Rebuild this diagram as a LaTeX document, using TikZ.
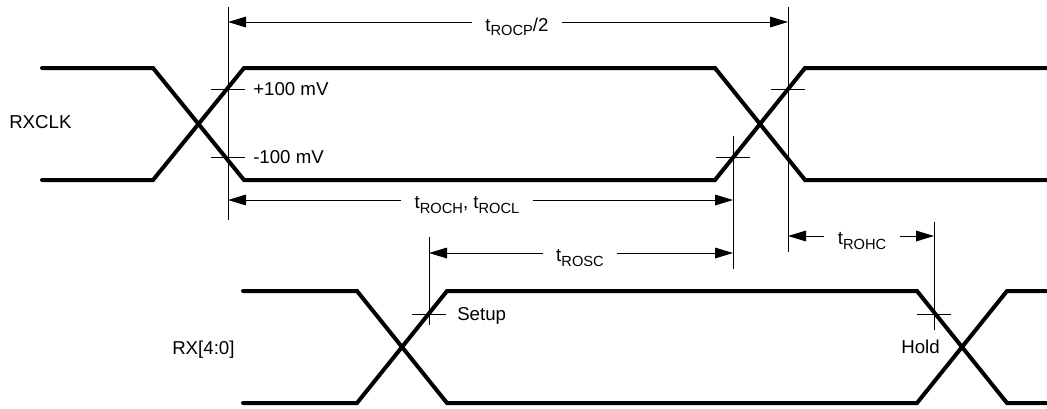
\documentclass[tikz,border=0pt]{standalone}
\usepackage{fontspec}
\setmainfont{Liberation Sans}
\usetikzlibrary{arrows.meta}
\newcommand{\tsub}[1]{\raisebox{-3.6pt}{\fontsize{11}{11}\selectfont #1}}
\tikzset{
	wave/.style={line width=3pt, line cap=round, line join=miter},
	guide/.style={line width=0.75pt},
	dim/.style={line width=0.75pt, -{Triangle[length=13.5pt,width=8pt]}},
	dimlabel/.style={anchor=base, inner xsep=10pt, inner ysep=0pt},
	sig/.style={inner sep=0pt}
}
\begin{document}
\begin{tikzpicture}[x=0.75pt,y=-0.75pt,font=\fontsize{14}{16}\selectfont]
	\useasboundingbox (0,0) rectangle (1047,408);
	%
	\def\rxhi{68}
	\def\rxlo{180}
	\def\dhi{291}
	\def\dlo{403}
	%
	% RXCLK
	\draw [wave] (42,\rxhi) -- (153,\rxhi) -- (244,\rxlo) -- (715,\rxlo) -- (805,\rxhi) -- (1047,\rxhi);
	\draw [wave] (42,\rxlo) -- (153,\rxlo) -- (244,\rxhi) -- (715,\rxhi) -- (805,\rxlo) -- (1047,\rxlo);
	% RX[4:0]
	\draw [wave] (243,\dhi) -- (357,\dhi) -- (447,\dlo) -- (917,\dlo) -- (1007,\dhi) -- (1047,\dhi);
	\draw [wave] (243,\dlo) -- (357,\dlo) -- (447,\dhi) -- (917,\dhi) -- (1007,\dlo) -- (1047,\dlo);
	%
	\node [sig, anchor=base west] (rxclk) at (9,128.5) {RXCLK};
	\node [sig, anchor=base west] (rxd) at (172,354.5) {RX[4:0]};
	%
	\foreach \x/\a/\b in {228/7/220,788/7/252,733/136/269,429/237/325,934/222/330}
		\draw [guide] (\x,\a) -- (\x,\b);
	\foreach \x/\y in {228/89,228/157,788/89,733/157,429/314,934/314}
		\draw [guide] (\x-17,\y) -- (\x+17,\y);
	%
	\node [sig, anchor=base west] (hi) at (253,95.5) {+100 mV};
	\node [sig, anchor=base west] (lo) at (253,163.5) {-100 mV};
	\node [sig, anchor=base west] (setup) at (457,320.5) {Setup};
	\node [sig, anchor=base east] (hold) at (940,353.5) {Hold};
	%
	% dimensions
	\coordinate (cpL) at (228,22);  \coordinate (cpR) at (788,22);
	\coordinate (chL) at (228,200); \coordinate (chR) at (733,200);
	\coordinate (scL) at (429,253); \coordinate (scR) at (733,253);
	\coordinate (hcL) at (788,236); \coordinate (hcR) at (934,236);
	\node [dimlabel] (ocp) at (517,31) {t\tsub{ROCP}/2};
	\node [dimlabel] (och) at (467,208.5) {t\tsub{ROCH}, t\tsub{ROCL}};
	\node [dimlabel] (osc) at (580,261.5) {t\tsub{ROSC}};
	\node [dimlabel] (ohc) at (862,244.5) {t\tsub{ROHC}};
	\foreach \n/\c in {ocp/cp,och/ch,osc/sc,ohc/hc}{
		\draw [dim] (\n.west |- \c L) -- (\c L);
		\draw [dim] (\n.east |- \c R) -- (\c R);
	}
\end{tikzpicture}
\end{document}
